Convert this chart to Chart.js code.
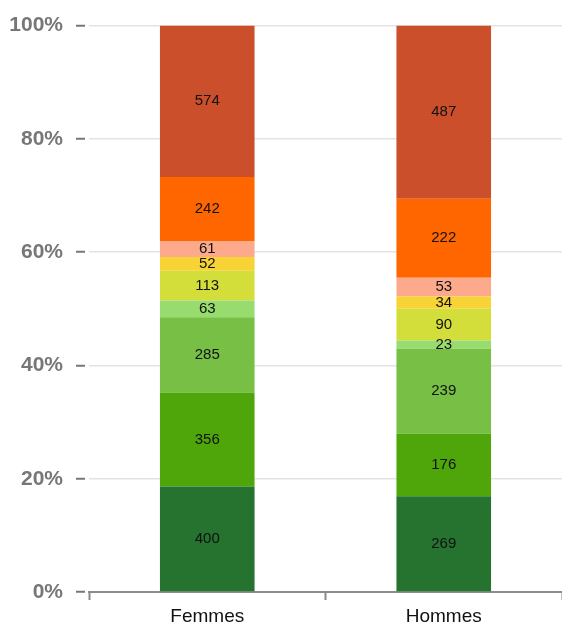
<!DOCTYPE html>
<html>
<head>
<meta charset="utf-8">
<script src="https://cdn.jsdelivr.net/npm/chart.js@4/dist/chart.umd.min.js"></script>
<style>
  body { margin: 0; background: #fff; }
  #wrap { width: 562px; height: 626px; }
</style>
</head>
<body>
<div id="wrap"><canvas id="stackChart"></canvas></div>
<script>
const categories = ['Femmes', 'Hommes'];
const segmentNames = ['s1', 's2', 's3', 's4', 's5', 's6', 's7', 's8', 's9'];
const femmesValues = [400, 356, 285, 63, 113, 52, 61, 242, 574];
const hommesValues = [269, 176, 239, 23, 90, 34, 53, 222, 487];
const segmentColors = ['#25732f', '#4ea60b', '#77c045', '#98dc6e', '#d3de3a', '#f7d335', '#fca98c', '#ff6600', '#cc4f2c'];
const yTicks = [0, 20, 40, 60, 80, 100];

const femmesTotal = femmesValues.reduce((a, b) => a + b, 0);
const hommesTotal = hommesValues.reduce((a, b) => a + b, 0);

function buildDatasets(){
  return segmentNames.map((name, i) => ({
    label: name,
    data: [femmesValues[i] / femmesTotal * 100, hommesValues[i] / hommesTotal * 100],
    raw: [femmesValues[i], hommesValues[i]],
    backgroundColor: segmentColors[i],
    borderWidth: 0,
    categoryPercentage: 0.8,
    barPercentage: 0.5
  }));
}

// draw the raw count in the middle of each segment
const segmentLabels = {
  id: 'segmentLabels',
  afterDatasetsDraw(chart){
    const ctx = chart.ctx;
    ctx.save();
    ctx.font = '15px Arial, "Liberation Sans", sans-serif';
    ctx.fillStyle = '#111';
    ctx.textAlign = 'center';
    ctx.textBaseline = 'middle';
    chart.data.datasets.forEach((ds, i) => {
      chart.getDatasetMeta(i).data.forEach((bar, j) => {
        const mid = (bar.y + bar.base) / 2;
        ctx.fillText(ds.raw[j], bar.x, mid);
      });
    });
    ctx.restore();
  }
};

function renderChart(){
  const ctx = document.getElementById('stackChart');
  new Chart(ctx, {
    type: 'bar',
    data: {
      labels: categories,
      datasets: buildDatasets()
    },
    options: {
      responsive: true,
      maintainAspectRatio: false,
      animation: false,
      layout: { padding: { top: 12, left: 0, right: 0, bottom: 0 } },
      scales: {
        x: {
          stacked: true,
          afterFit(scale){
            scale.height = 34;
          },
          grid: {
            display: true,
            drawOnChartArea: false,
            drawTicks: true,
            tickLength: 8,
            tickColor: '#888',
            tickWidth: 2
          },
          border: { display: true, color: '#8c8c8c', width: 2 },
          ticks: {
            padding: 5,
            color: '#111',
            font: { size: 19, family: 'Arial, "Liberation Sans", sans-serif' }
          }
        },
        y: {
          stacked: true,
          min: 0,
          max: 100,
          afterBuildTicks(scale){
            scale.ticks = yTicks.map(v => ({ value: v }));
          },
          afterFit(scale){
            scale.width = 89;
          },
          grid: {
            color: '#e3e3e3',
            lineWidth: 1.5,
            tickLength: 13,
            tickColor: '#777',
            tickWidth: 2,
            tickBorderDash: [9, 4],
            tickBorderDashOffset: 0
          },
          border: { display: false },
          ticks: {
            padding: 13,
            color: '#777',
            font: { size: 21, weight: 'bold', family: 'Arial, "Liberation Sans", sans-serif' },
            callback: v => v + '%'
          }
        }
      },
      plugins: {
        legend: { display: false },
        tooltip: { enabled: false }
      }
    },
    plugins: [segmentLabels]
  });
}

renderChart();
</script>
</body>
</html>
